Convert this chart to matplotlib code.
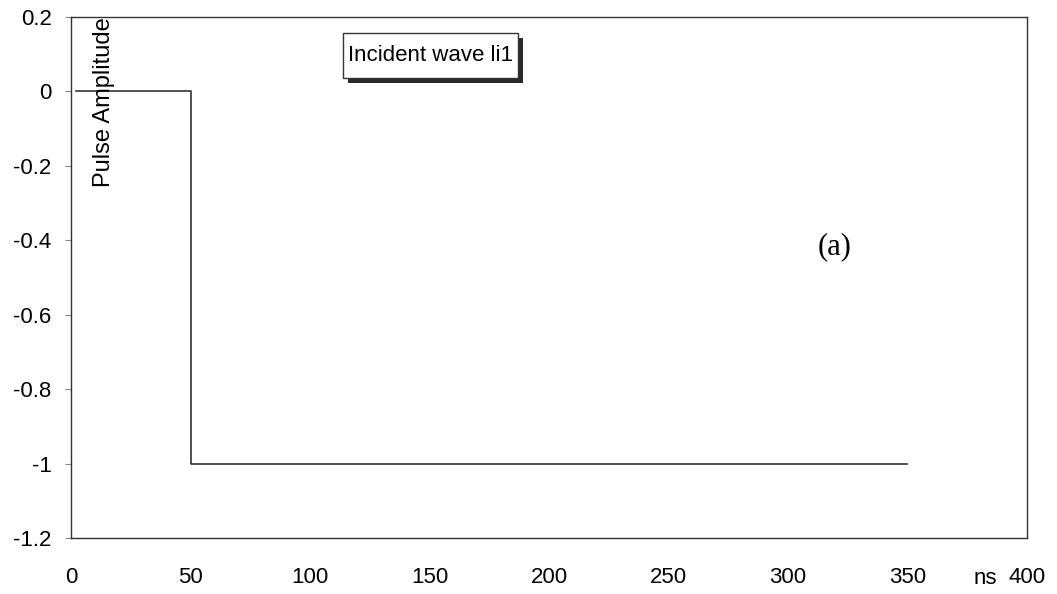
import matplotlib.pyplot as plt
from matplotlib.patches import Rectangle

plt.rcParams['font.family'] = ['Liberation Sans', 'DejaVu Sans']

# pulse trace (ns, amplitude)
time_ns = [2, 50, 50, 350]
amplitude = [0, 0, -1, -1]
series_name = 'Incident wave li1'

x_ticks = [0, 50, 100, 150, 200, 250, 300, 350, 400]
y_ticks = [-1.2, -1.0, -0.8, -0.6, -0.4, -0.2, 0, 0.2]
y_labels = ['-1.2', '-1', '-0.8', '-0.6', '-0.4', '-0.2', '0', '0.2']

fig = plt.figure(figsize=(10.57, 5.94), dpi=100)
ax = fig.add_axes([0.0672, 0.0943, 0.9044, 0.8771])

ax.plot(time_ns, amplitude, color='#333333', linewidth=1.2)

ax.set_xlim(0, 400)
ax.set_ylim(-1.2, 0.2)
ax.set_xticks(x_ticks)
ax.set_yticks(y_ticks)
ax.set_yticklabels(y_labels)
ax.tick_params(axis='x', length=0, pad=21, labelsize=16)
ax.tick_params(axis='y', length=4, width=0.8, direction='out', pad=10, labelsize=16, color='#888888')
for s in ax.spines.values():
    s.set_color('#333333')
    s.set_linewidth(1.0)

ax.text(0.023, 1.0, 'Pulse Amplitude', transform=ax.transAxes, rotation=90,
        ha='left', va='top', fontsize=17)
fig.text(0.921, 0.008, 'ns', ha='left', va='bottom', fontsize=16)
ax.text(0.799, 0.5585, '(a)', transform=ax.transAxes, ha='center', va='center',
        fontsize=22, family=['Liberation Serif', 'DejaVu Serif'])

# legend-like box with drop shadow (Excel style)
bx, by, bw, bh = 0.3245, 0.8687, 0.1656, 0.0758
fig.add_artist(Rectangle((bx + 0.0047, by - 0.0084), bw, bh, transform=fig.transFigure,
                         facecolor='#2a2a2a', edgecolor='none', zorder=5))
fig.add_artist(Rectangle((bx, by), bw, bh, transform=fig.transFigure,
                         facecolor='white', edgecolor='#333333', linewidth=1.0, zorder=6))
fig.text(bx + bw / 2, by + bh / 2, series_name, ha='center', va='center',
         fontsize=16, zorder=7)

fig.savefig('out.png', dpi=100)
